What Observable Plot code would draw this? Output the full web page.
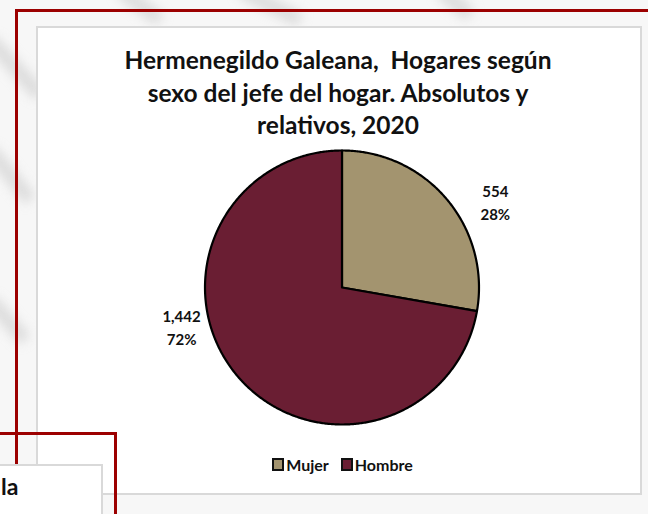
<!DOCTYPE html>
<html><head><meta charset="utf-8">
<script src="https://cdn.jsdelivr.net/npm/d3@7"></script>
<script src="https://cdn.jsdelivr.net/npm/@observablehq/plot@0.6"></script>
<style>
html,body{margin:0;padding:0;}
body{width:648px;height:514px;position:relative;overflow:hidden;background:#f7f7f7;font-family:Lato,"Open Sans",sans-serif;}
.abs{position:absolute;}
#wm{left:0;top:0;}
#box{left:36px;top:26px;width:602px;height:465px;background:#fff;border:2px solid #d9d9d9;}
#title{left:36px;top:44px;width:604px;text-align:center;font-weight:700;font-size:24.5px;line-height:32.5px;color:#111;white-space:pre;}
#plot{left:0;top:0;}
#legend{left:0;top:455px;width:685px;text-align:center;font-weight:700;font-size:16px;color:#111;}
#legend span.item{display:inline-flex;align-items:center;margin:0 6px;}
#legend span.sw{display:inline-block;width:8px;height:9px;border:2px solid #111;margin-right:2px;}
.red{background:#9c0000;}
#box2{left:-2px;top:464px;width:101px;height:60px;background:#fff;border:2px solid #d9d9d9;font-weight:700;font-size:23px;color:#111;}
</style></head><body>
<svg id="wm" class="abs" width="648" height="514">
  <defs><filter id="bl"><feGaussianBlur stdDeviation="6"/></filter></defs>
  <g filter="url(#bl)" stroke="#d4d4d4" stroke-width="14" fill="none" opacity="0.8">
    <path d="M -10 40 L 40 95"/>
    <path d="M 120 -10 L 160 20"/>
    <path d="M 240 -10 L 300 20"/>
    <path d="M 440 -10 L 470 15"/>
    <path d="M -10 150 L 30 200"/>
    <path d="M -10 300 L 25 340"/>
  </g>
</svg>
<div id="box" class="abs"></div>
<div class="abs red" style="left:15px;top:9px;width:633px;height:3px;"></div>
<div class="abs red" style="left:15px;top:9px;width:3px;height:456px;"></div>
<div class="abs red" style="left:0;top:432px;width:117px;height:3px;"></div>
<div class="abs red" style="left:114px;top:432px;width:3px;height:90px;"></div>
<div id="box2" class="abs"><div style="position:absolute;left:1px;top:6px;">la</div></div>
<div id="title" class="abs"></div>
<div id="plot" class="abs"></div>
<div id="legend" class="abs"></div>
<script>
// ---- data ----
const titleLines = ["Hermenegildo Galeana,  Hogares según", "sexo del jefe del hogar. Absolutos y", "relativos, 2020"];
const categories = ["Mujer", "Hombre"];
const values = [554, 1442];
const percentLabels = ["28%", "72%"];
const valueLabels = ["554", "1,442"];
// ---- styles ----
const colors = ["#A3946F", "#6A1E33"];

document.getElementById("title").textContent = titleLines.join("\n");

const pie = d3.pie().sort(null).value(d => d).startAngle(0).endAngle(2 * Math.PI)(values);

// slice outlines built from the pie layout
const polys = [];
pie.forEach((s, i) => {
  const cat = categories[i];
  polys.push({cat, x: 0, y: 0});
  const n = Math.max(2, Math.ceil((s.endAngle - s.startAngle) / (Math.PI / 360)));
  for (let k = 0; k <= n; k++) {
    const a = s.startAngle + (s.endAngle - s.startAngle) * k / n;
    polys.push({cat, x: Math.sin(a), y: Math.cos(a)});
  }
});

// label placement (excel "best fit" positions): angle offset from slice middle, radius
const labelPlace = [{da: 10.6, r: 1.285}, {da: 26.4, r: 1.205}];
const labels = pie.map((s, i) => {
  const a = (s.startAngle + s.endAngle) / 2 + labelPlace[i].da * Math.PI / 180;
  return {cat: categories[i], x: labelPlace[i].r * Math.sin(a), y: labelPlace[i].r * Math.cos(a),
          text: valueLabels[i] + "\n" + percentLabels[i]};
});

const chart = Plot.plot({
  width: 648, height: 514,
  margin: 0,
  style: {background: "transparent", overflow: "visible"},
  x: {domain: [-1, 1], range: [204.5, 478.5], axis: null},
  y: {domain: [-1, 1], range: [424, 150], axis: null},
  color: {domain: categories, range: colors},
  marks: [
    Plot.line(polys, {x: "x", y: "y", z: "cat", fill: "cat", stroke: "#000", strokeWidth: 2.2, curve: "linear-closed", strokeLinejoin: "round"}),
    Plot.text(labels, {x: "x", y: "y", text: "text", fontWeight: 700, fontSize: 15, lineHeight: 1.55, fill: "#111", fontFamily: "Lato"})
  ]
});
document.getElementById("plot").appendChild(chart);

const leg = document.getElementById("legend");
categories.forEach((c, i) => {
  const it = document.createElement("span"); it.className = "item";
  const sw = document.createElement("span"); sw.className = "sw"; sw.style.background = colors[i];
  it.appendChild(sw); it.appendChild(document.createTextNode(c));
  leg.appendChild(it);
});
</script>
</body></html>
